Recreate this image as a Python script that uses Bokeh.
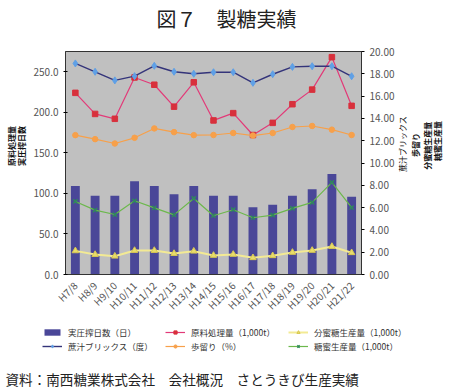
import math
from bokeh.plotting import figure
from bokeh.layouts import column, row
from bokeh.models import (Range1d, LinearAxis, FixedTicker, NumeralTickFormatter,
                          Label, Legend, LegendItem, ColumnDataSource)
from bokeh.embed import file_html
from bokeh.resources import INLINE

categories = ["H7/8", "H8/9", "H9/10", "H10/11", "H11/12", "H12/13", "H13/14", "H14/15",
              "H15/16", "H16/17", "H17/18", "H18/19", "H19/20", "H20/21", "H21/22"]
days = [109, 97, 97, 115, 109, 99, 109, 97, 97, 83, 86, 97, 105, 124, 96]
cane = [224, 198, 192, 243, 234, 207, 237, 190, 199, 172, 187, 210, 228, 268, 208]
brix = [18.93, 18.18, 17.41, 17.79, 18.72, 18.18, 18.00, 18.14, 18.14, 17.19, 17.96, 18.62, 18.68, 18.68, 17.78]
yield_pct = [12.50, 12.14, 11.75, 12.26, 13.10, 12.77, 12.50, 12.51, 12.69, 12.46, 12.69, 13.23, 13.32, 12.99, 12.51]
bunmitsu = [2.12, 1.79, 1.64, 2.15, 2.15, 1.88, 2.09, 1.71, 1.80, 1.50, 1.68, 1.98, 2.16, 2.51, 1.95]
molasses = [6.55, 5.77, 5.38, 6.61, 5.98, 5.35, 6.82, 5.27, 5.81, 5.09, 5.33, 5.93, 6.47, 8.26, 5.99]

left_ticks = [0, 50, 100, 150, 200, 250]
right_ticks = [0, 2, 4, 6, 8, 10, 12, 14, 16, 18, 20]

FONT = "Noto Sans CJK JP"

# styles
BAR_C = "#4a4798"
CANE_LINE, CANE_MK = "#e23a78", "#d8303c"
BRIX_LINE, BRIX_MK = "#34347a", "#5fa0e6"
YLD_C = "#f7a04a"
BUN_LINE, BUN_MK = "#f3ea94", "#e8dc6c"
MOL_LINE, MOL_MK = "#6cb84c", "#2f8a5a"


def blank_fig(w, h):
    f = figure(width=w, height=h, x_range=Range1d(0, w), y_range=Range1d(0, h),
               output_backend="svg", toolbar_location=None, title=None,
               x_axis_location=None, y_axis_location=None)
    f.min_border_left = f.min_border_right = f.min_border_top = f.min_border_bottom = 0
    f.outline_line_color = None
    f.background_fill_color = "white"
    f.border_fill_color = "white"
    f.grid.visible = False
    return f


W = 451
TITLE_H = 43
MAIN_H = 8 + 223 + 52
BOT_H = 392 - TITLE_H - MAIN_H
LEFT_W = 28
MAIN_W = 37 + 297 + 35
RIGHT_W = W - LEFT_W - MAIN_W

# ---- title
tf = blank_fig(W, TITLE_H)
tf.add_layout(Label(x=226, y=TITLE_H - 18, text="図７　製糖実績", text_align="center",
                    text_baseline="middle", text_font=FONT, text_font_size="20px",
                    text_color="#222222"))

# ---- main plot
src = ColumnDataSource(dict(cat=categories, days=days, cane=cane, brix=brix,
                            yld=yield_pct, bun=bunmitsu, mol=molasses))

p = figure(width=MAIN_W, height=MAIN_H, x_range=categories, y_range=Range1d(0, 275),
           output_backend="svg", toolbar_location=None, title=None)
p.min_border_left = 37
p.min_border_right = 35
p.min_border_top = 8
p.min_border_bottom = 52
p.background_fill_color = "#c0c0c0"
p.border_fill_color = "white"
p.outline_line_color = "#333333"
p.grid.visible = False
p.extra_y_ranges = {"right": Range1d(0, 20)}

ya = p.yaxis[0]
ya.ticker = FixedTicker(ticks=left_ticks)
ya.formatter = NumeralTickFormatter(format="0.0")
ya.major_label_text_font = FONT
ya.major_label_text_font_size = "10px"
ya.major_label_text_color = "#555555"
ya.axis_line_color = "#333333"
ya.major_tick_in = 2
ya.major_tick_out = 2
ya.minor_tick_line_color = None
ya.major_label_standoff = 5

ra = LinearAxis(y_range_name="right", ticker=FixedTicker(ticks=right_ticks),
                formatter=NumeralTickFormatter(format="0.00"))
ra.major_label_text_font = FONT
ra.major_label_text_font_size = "10px"
ra.major_label_text_color = "#555555"
ra.axis_line_color = "#333333"
ra.major_tick_in = 0
ra.major_tick_out = 3
ra.minor_tick_line_color = None
ra.major_label_standoff = 5
p.add_layout(ra, "right")

xa = p.xaxis[0]
xa.major_label_orientation = math.pi / 4
xa.major_label_text_font = FONT
xa.major_label_text_font_size = "10px"
xa.major_label_text_color = "#555555"
xa.major_tick_line_color = None
xa.axis_line_color = "#333333"
xa.major_label_standoff = 3

p.vbar(x="cat", top="days", width=0.45, source=src, fill_color=BAR_C, line_color=None)
p.line("cat", "cane", source=src, line_color=CANE_LINE, line_width=1.2)
p.scatter("cat", "cane", source=src, marker="square", size=5.5, fill_color=CANE_MK, line_color=CANE_MK)
p.line("cat", "brix", source=src, y_range_name="right", line_color=BRIX_LINE, line_width=1.4)
p.scatter("cat", "brix", source=src, y_range_name="right", marker="diamond", size=7,
          fill_color=BRIX_MK, line_color=BRIX_MK)
p.line("cat", "yld", source=src, y_range_name="right", line_color=YLD_C, line_width=1.2)
p.scatter("cat", "yld", source=src, y_range_name="right", marker="circle", size=5.5,
          fill_color=YLD_C, line_color=YLD_C)
p.line("cat", "bun", source=src, y_range_name="right", line_color=BUN_LINE, line_width=2)
p.scatter("cat", "bun", source=src, y_range_name="right", marker="triangle", size=6.5,
          fill_color=BUN_MK, line_color="#d8c850")
p.line("cat", "mol", source=src, y_range_name="right", line_color=MOL_LINE, line_width=1.2)
p.scatter("cat", "mol", source=src, y_range_name="right", marker="x", size=6,
          line_color=MOL_MK, line_width=1.4)

# ---- left axis title
lf = blank_fig(LEFT_W, MAIN_H)
for t, x in [("原料処理量", 10.5), ("実圧搾日数", 21)]:
    lf.add_layout(Label(x=x, y=MAIN_H - (163 - TITLE_H), text=t, angle=math.pi / 2,
                        text_align="center", text_baseline="middle", text_font=FONT,
                        text_font_size="8px", text_font_style="bold", text_color="#111111"))

# ---- right axis title
rf = blank_fig(RIGHT_W, MAIN_H)
x0 = LEFT_W + MAIN_W
for t, x, yc, st in [("蔗汁ブリックス", 401.7, 160.5, "normal"), ("歩留り", 415, 161.5, "bold"),
                     ("分蜜糖生産量", 426.7, 162.5, "bold"), ("糖蜜生産量", 436.7, 156.5, "bold")]:
    rf.add_layout(Label(x=x - x0, y=MAIN_H - (yc - TITLE_H), text=t, angle=math.pi / 2,
                        text_align="center", text_baseline="middle", text_font=FONT,
                        text_font_size="8px", text_font_style=st, text_color="#111111"))

# ---- legend + source
bf = blank_fig(W, BOT_H)
OFF = [-1000]
d_bar = bf.vbar(x=OFF, top=OFF, width=1, fill_color=BAR_C, line_color=None)
d_cane = [bf.line(OFF, OFF, line_color=CANE_LINE, line_width=1.2),
          bf.scatter(OFF, OFF, marker="square", size=5.5, fill_color=CANE_MK, line_color=CANE_MK)]
d_brix = [bf.line(OFF, OFF, line_color=BRIX_LINE, line_width=1.4),
          bf.scatter(OFF, OFF, marker="diamond", size=7, fill_color=BRIX_MK, line_color=BRIX_MK)]
d_yld = [bf.line(OFF, OFF, line_color=YLD_C, line_width=1.2),
         bf.scatter(OFF, OFF, marker="circle", size=5.5, fill_color=YLD_C, line_color=YLD_C)]
d_bun = [bf.line(OFF, OFF, line_color=BUN_LINE, line_width=2),
         bf.scatter(OFF, OFF, marker="triangle", size=6.5, fill_color=BUN_MK, line_color="#d8c850")]
d_mol = [bf.line(OFF, OFF, line_color=MOL_LINE, line_width=1.2),
         bf.scatter(OFF, OFF, marker="x", size=6, line_color=MOL_MK, line_width=1.4)]

cols = [
    (42, [("実圧搾日数（日）", [d_bar]), ("蔗汁ブリックス（度）", d_brix)]),
    (165, [("原料処理量（1,000t）", d_cane), ("歩留り（%）", d_yld)]),
    (288, [("分蜜糖生産量（1,000t）", d_bun), ("糖蜜生産量（1,000t）", d_mol)]),
]
row1_center = 331 - (TITLE_H + MAIN_H)   # from top of bottom figure
for x, items in cols:
    lg = Legend(items=[LegendItem(label=l, renderers=r) for l, r in items],
                location=(x, BOT_H - row1_center - 21), orientation="vertical")
    lg.padding = 0
    lg.margin = 0
    lg.spacing = 2
    lg.glyph_width = 20
    lg.glyph_height = 8
    lg.label_height = 8
    lg.label_standoff = 6
    lg.label_text_font = FONT
    lg.label_text_font_size = "8.5px"
    lg.label_text_color = "#333333"
    lg.border_line_color = None
    lg.background_fill_alpha = 0
    bf.add_layout(lg, "center")

bf.add_layout(Label(x=5, y=BOT_H - (378.5 - TITLE_H - MAIN_H),
                    text="資料：南西糖業株式会社　会社概況　さとうきび生産実績",
                    text_align="left", text_baseline="middle", text_font=FONT,
                    text_font_size="13.6px", text_color="#222222"))

layout = column(tf, row(lf, p, rf), bf)
open("out.html", "w").write(file_html(layout, INLINE))
